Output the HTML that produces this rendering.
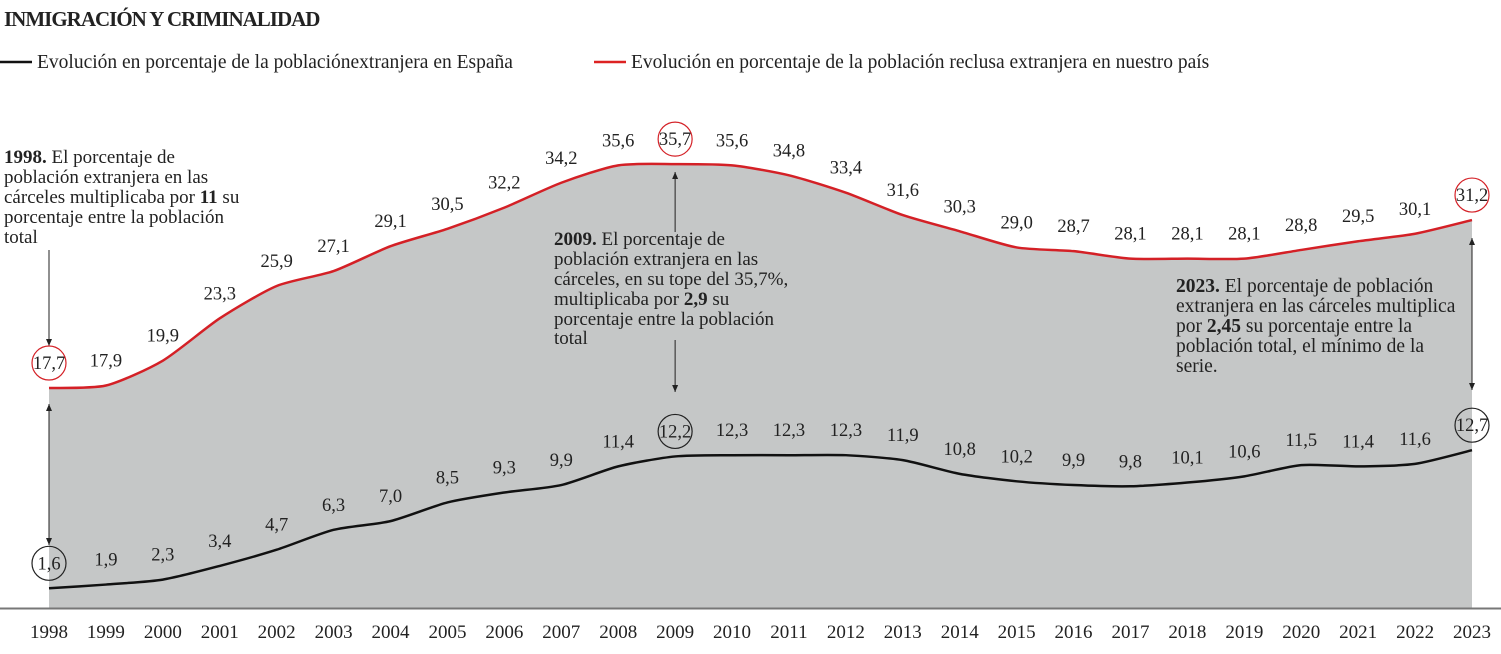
<!DOCTYPE html>
<html><head><meta charset="utf-8">
<style>
body{margin:0;background:#fff;width:1501px;height:654px;overflow:hidden;font-family:"Liberation Serif",serif;}
svg{display:block}
text{font-family:"Liberation Serif",serif;fill:#222}
</style></head><body>
<svg width="1501" height="654">
<text x="4" y="26" font-size="21" font-weight="bold" letter-spacing="-1">INMIGRACIÓN Y CRIMINALIDAD</text>
<g>
<line x1="0" y1="62" x2="32" y2="62" stroke="#111" stroke-width="2.5"/>
<text x="37" y="68" font-size="19.5">Evolución en porcentaje de la poblaciónextranjera en España</text>
</g>
<g>
<line x1="594" y1="62" x2="626" y2="62" stroke="#d22" stroke-width="2.5"/>
<text x="631" y="68" font-size="19.5">Evolución en porcentaje de la población reclusa extranjera en nuestro país</text>
</g>
<g id="plot"></g>
<g font-size="19">
<text x="4" y="163"><tspan font-weight="bold">1998.</tspan> El porcentaje de</text>
<text x="4" y="183">población extranjera en las</text>
<text x="4" y="203">cárceles multiplicaba por <tspan font-weight="bold">11</tspan> su</text>
<text x="4" y="223">porcentaje entre la población</text>
<text x="4" y="243">total</text>
</g>
<g font-size="19">
<text x="554" y="245"><tspan font-weight="bold">2009.</tspan> El porcentaje de</text>
<text x="554" y="265">población extranjera en las</text>
<text x="554" y="285">cárceles, en su tope del 35,7%,</text>
<text x="554" y="305">multiplicaba por <tspan font-weight="bold">2,9</tspan> su</text>
<text x="554" y="325">porcentaje entre la población</text>
<text x="554" y="344">total</text>
</g>
<g font-size="19.5">
<text x="1176" y="292"><tspan font-weight="bold">2023.</tspan> El porcentaje de población</text>
<text x="1176" y="312">extranjera en las cárceles multiplica</text>
<text x="1176" y="332">por <tspan font-weight="bold">2,45</tspan> su porcentaje entre la</text>
<text x="1176" y="352">población total, el mínimo de la</text>
<text x="1176" y="372">serie.</text>
</g>
</svg>
<script>
const years=[1998,1999,2000,2001,2002,2003,2004,2005,2006,2007,2008,2009,2010,2011,2012,2013,2014,2015,2016,2017,2018,2019,2020,2021,2022,2023];
const redValues=[17.7,17.9,19.9,23.3,25.9,27.1,29.1,30.5,32.2,34.2,35.6,35.7,35.6,34.8,33.4,31.6,30.3,29.0,28.7,28.1,28.1,28.1,28.8,29.5,30.1,31.2];
const blackValues=[1.6,1.9,2.3,3.4,4.7,6.3,7.0,8.5,9.3,9.9,11.4,12.2,12.3,12.3,12.3,11.9,10.8,10.2,9.9,9.8,10.1,10.6,11.5,11.4,11.6,12.7];
const redLabels=["17,7","17,9","19,9","23,3","25,9","27,1","29,1","30,5","32,2","34,2","35,6","35,7","35,6","34,8","33,4","31,6","30,3","29,0","28,7","28,1","28,1","28,1","28,8","29,5","30,1","31,2"];
const blackLabels=["1,6","1,9","2,3","3,4","4,7","6,3","7,0","8,5","9,3","9,9","11,4","12,2","12,3","12,3","12,3","11,9","10,8","10,2","9,9","9,8","10,1","10,6","11,5","11,4","11,6","12,7"];
const circled=[1998,2009,2023];
const NS="http://www.w3.org/2000/svg";
const x=i=>49+i*(1472-49)/(years.length-1);
const y=v=>608.2-v*12.44;
const g=document.getElementById('plot');
function mk(t,a){const e=document.createElementNS(NS,t);for(const k in a)e.setAttribute(k,a[k]);g.appendChild(e);return e;}
function smooth(vals){let d=`M${x(0)},${y(vals[0])}`;const t=0.12;
for(let i=0;i<vals.length-1;i++){const p0=[x(Math.max(i-1,0)),y(vals[Math.max(i-1,0)])],p1=[x(i),y(vals[i])],p2=[x(i+1),y(vals[i+1])],p3=[x(Math.min(i+2,vals.length-1)),y(vals[Math.min(i+2,vals.length-1)])];
d+=` C${p1[0]+(p2[0]-p0[0])*t},${p1[1]+(p2[1]-p0[1])*t} ${p2[0]-(p3[0]-p1[0])*t},${p2[1]-(p3[1]-p1[1])*t} ${p2[0]},${p2[1]}`;}return d;}
const area=mk('path',{d:smooth(redValues)+` L${x(years.length-1)},${y(0)} L${x(0)},${y(0)} Z`,fill:'#c5c7c7'});


const ax=mk('line',{x1:0,x2:1501,y1:608.5,y2:608.5,stroke:'#777','stroke-width':2});


const rl=mk('path',{d:smooth(redValues),fill:'none',stroke:'#d42026','stroke-width':2.5});


const bl=mk('path',{d:smooth(blackValues),fill:'none',stroke:'#111','stroke-width':2.5});


function arrow(x0,y1,y2,name){const l=mk('line',{x1:x0,x2:x0,y1:y1,y2:y2,stroke:'#222','stroke-width':1});


const dir=y2>y1?1:-1;mk('path',{d:`M${x0-3},${y2-dir*7} L${x0+3},${y2-dir*7} L${x0},${y2} Z`,fill:'#222'});}
arrow(x(0),250,346,'arrow-1998');arrow(x(0),404,545,'arrow-1998-b');arrow(x(0),545,404,'arrow-1998-c');
arrow(x(11),232,172,'arrow-2009-up');arrow(x(11),340,392,'arrow-2009-down');
arrow(x(25),238,390,'arrow-2023');arrow(x(25),390,238,'arrow-2023-up');
years.forEach((yr,i)=>{
 const t=mk('text',{x:x(i),y:638,'font-size':19,'text-anchor':'middle'});t.textContent=yr;
 
 
 const ry=y(redValues[i])-19,by=y(blackValues[i])-19;
 const r=mk('text',{x:x(i),y:ry,'font-size':18.5,'text-anchor':'middle'});r.textContent=redLabels[i];
 
 
 const b=mk('text',{x:x(i),y:by,'font-size':18.5,'text-anchor':'middle'});b.textContent=blackLabels[i];
 
 
 if(circled.includes(yr)){
  const c1=mk('circle',{cx:x(i),cy:ry-6,r:17,fill:'none',stroke:'#d42026','stroke-width':1.2});
  
  
  const c2=mk('circle',{cx:x(i),cy:by-6,r:17,fill:'none',stroke:'#222','stroke-width':1.2});
  
  
 }
});
</script>
</body></html>
